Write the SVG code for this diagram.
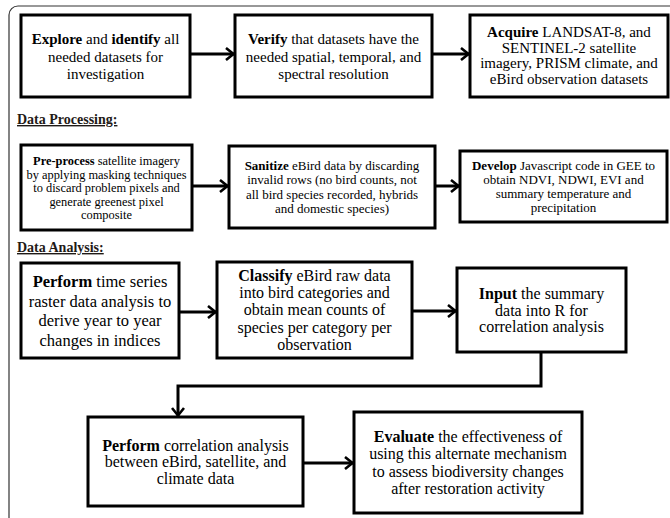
<svg xmlns="http://www.w3.org/2000/svg" width="670" height="518" viewBox="0 0 670 518">
<style>
.box{fill:#fff;stroke:#000;stroke-width:3}
.t{font-family:"Liberation Serif","Times New Roman",serif;fill:#000;text-anchor:middle}
.b{font-weight:bold}
.hdr{font-family:"Liberation Serif","Times New Roman",serif;font-weight:bold;font-size:14px;fill:#1f1a17;text-decoration:underline}
.c{fill:none;stroke:#000;stroke-width:3}
</style>
<defs>
<marker id="ah" markerUnits="userSpaceOnUse" markerWidth="12" markerHeight="14" refX="9" refY="7" orient="auto">
<path d="M1,1 L8.5,7 L1,13" fill="none" stroke="#000" stroke-width="2.6"/>
</marker>
</defs>
<rect x="9" y="6" width="720" height="600" rx="9" fill="#fff" stroke="#333" stroke-width="1.2"/>

<text class="hdr" x="17" y="124">Data Processing:</text>
<text class="hdr" x="17" y="252">Data Analysis:</text>

<g id="connectors">
<line class="c" x1="190" y1="54" x2="234" y2="54" marker-end="url(#ah)"/>
<line class="c" x1="432" y1="54" x2="469" y2="54" marker-end="url(#ah)"/>
<line class="c" x1="192" y1="186" x2="228" y2="186" marker-end="url(#ah)"/>
<line class="c" x1="435" y1="186" x2="459" y2="186" marker-end="url(#ah)"/>
<line class="c" x1="179" y1="312" x2="216" y2="312" marker-end="url(#ah)"/>
<line class="c" x1="412" y1="311" x2="456" y2="311" marker-end="url(#ah)"/>
<polyline class="c" points="541,352 541,386 178,386 178,416" marker-end="url(#ah)"/>
<line class="c" x1="303" y1="463" x2="353" y2="463" marker-end="url(#ah)"/>
</g>

<g id="n1">
<rect class="box" x="21" y="15" width="169" height="82"/>
<text class="t" font-size="15"><tspan x="105.5" y="44"><tspan class="b">Explore</tspan> and <tspan class="b">identify</tspan> all</tspan><tspan x="105.5" y="61.5">needed datasets for</tspan><tspan x="105.5" y="79">investigation</tspan></text>
</g>
<g id="n2">
<rect class="box" x="235" y="15" width="197" height="82"/>
<text class="t" font-size="15"><tspan x="333.5" y="44"><tspan class="b">Verify</tspan> that datasets have the</tspan><tspan x="333.5" y="61.5">needed spatial, temporal, and</tspan><tspan x="333.5" y="79">spectral resolution</tspan></text>
</g>
<g id="n3">
<rect class="box" x="470" y="15" width="198" height="82"/>
<text class="t" font-size="15"><tspan x="569" y="37"><tspan class="b">Acquire</tspan> LANDSAT-8, and</tspan><tspan x="569" y="52.5">SENTINEL-2 satellite</tspan><tspan x="569" y="68">imagery, PRISM climate, and</tspan><tspan x="569" y="83.5">eBird observation datasets</tspan></text>
</g>

<g id="n4">
<rect class="box" x="21" y="145" width="171" height="85"/>
<text class="t" font-size="12.4"><tspan x="106.5" y="165"><tspan class="b">Pre-process</tspan> satellite imagery</tspan><tspan x="106.5" y="178.5">by applying masking techniques</tspan><tspan x="106.5" y="192">to discard problem pixels and</tspan><tspan x="106.5" y="205.5">generate greenest pixel</tspan><tspan x="106.5" y="219">composite</tspan></text>
</g>
<g id="n5">
<rect class="box" x="229" y="146" width="206" height="82"/>
<text class="t" font-size="13"><tspan x="332" y="170"><tspan class="b">Sanitize</tspan> eBird data by discarding</tspan><tspan x="332" y="184.3">invalid rows (no bird counts, not</tspan><tspan x="332" y="198.6">all bird species recorded, hybrids</tspan><tspan x="332" y="212.9">and domestic species)</tspan></text>
</g>
<g id="n6">
<rect class="box" x="460" y="151" width="207" height="71"/>
<text class="t" font-size="13"><tspan x="563.5" y="169.5"><tspan class="b">Develop</tspan> Javascript code in GEE to</tspan><tspan x="563.5" y="183.7">obtain NDVI, NDWI, EVI and</tspan><tspan x="563.5" y="197.9">summary temperature and</tspan><tspan x="563.5" y="212.1">precipitation</tspan></text>
</g>

<g id="n7">
<rect class="box" x="21" y="263" width="158" height="95"/>
<text class="t" font-size="16.5"><tspan x="100" y="287"><tspan class="b">Perform</tspan> time series</tspan><tspan x="100" y="306.7">raster data analysis to</tspan><tspan x="100" y="326.4">derive year to year</tspan><tspan x="100" y="346.1">changes in indices</tspan></text>
</g>
<g id="n8">
<rect class="box" x="217" y="262" width="195" height="96"/>
<text class="t" font-size="16"><tspan x="314.5" y="281"><tspan class="b">Classify</tspan> eBird raw data</tspan><tspan x="314.5" y="298.2">into bird categories and</tspan><tspan x="314.5" y="315.4">obtain mean counts of</tspan><tspan x="314.5" y="332.6">species per category per</tspan><tspan x="314.5" y="349.8">observation</tspan></text>
</g>
<g id="n9">
<rect class="box" x="457" y="268" width="169" height="84"/>
<text class="t" font-size="16"><tspan x="541.5" y="298.8"><tspan class="b">Input</tspan> the summary</tspan><tspan x="541.5" y="315.5">data into R for</tspan><tspan x="541.5" y="332.2">correlation analysis</tspan></text>
</g>
<g id="n10">
<rect class="box" x="88" y="417" width="215" height="89"/>
<text class="t" font-size="16"><tspan x="195.5" y="450.5"><tspan class="b">Perform</tspan> correlation analysis</tspan><tspan x="195.5" y="467">between eBird, satellite, and</tspan><tspan x="195.5" y="483.5">climate data</tspan></text>
</g>
<g id="n11">
<rect class="box" x="354" y="412" width="228" height="101"/>
<text class="t" font-size="16"><tspan x="468" y="442.2"><tspan class="b">Evaluate</tspan> the effectiveness of</tspan><tspan x="468" y="459.4">using this alternate mechanism</tspan><tspan x="468" y="476.6">to assess biodiversity changes</tspan><tspan x="468" y="493.8">after restoration activity</tspan></text>
</g>
</svg>
